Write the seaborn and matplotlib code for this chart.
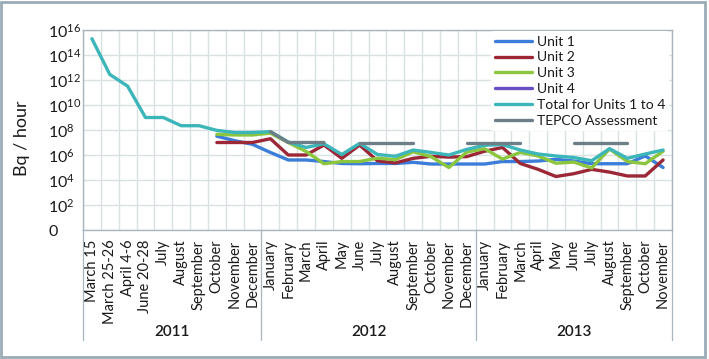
import numpy as np
import pandas as pd
import matplotlib
matplotlib.use("Agg")
import matplotlib.pyplot as plt
import matplotlib.transforms as mtransforms
import seaborn as sns
from matplotlib.lines import Line2D
from matplotlib.patches import Rectangle

# categories along the x axis, grouped by year
categories = ["March 15", "March 25-26", "April 4-6", "June 20-28", "July", "August",
              "September", "October", "November", "December",
              "January", "February", "March", "April", "May", "June", "July", "August",
              "September", "October", "November", "December",
              "January", "February", "March", "April", "May", "June", "July", "August",
              "September", "October", "November"]
years = ["2011", "2012", "2013"]
months_per_year = [10, 12, 11]

nan = np.nan
# release rates, Bq / hour
unit1 = [nan] * 7 + [3.2e7, 1.4e7, 7.1e6, 1.6e6, 4.0e5, 4.0e5, 3.0e5, 2.1e5, 2.0e5, 2.1e5,
                     2.1e5, 2.6e5, 1.9e5, 1.9e5, 1.9e5, 1.9e5, 3.0e5, 3.0e5, 3.3e5, 4.5e5,
                     3.3e5, 2.0e5, 2.0e5, 2.0e5, 8.5e5, 1.0e5]
unit2 = [nan] * 7 + [1.0e7, 1.0e7, 1.0e7, 2.0e7, 1.0e6, 1.0e6, 6.3e6, 5.4e5, 6.3e6, 3.4e5,
                     2.3e5, 5.4e5, 7.9e5, 6.8e5, 7.4e5, 2.0e6, 4.0e6, 2.1e5, 7.1e4, 1.9e4,
                     3.2e4, 7.1e4, 4.3e4, 2.1e4, 2.1e4, 4.0e5]
unit3 = [nan] * 7 + [4.5e7, 4.0e7, 4.0e7, 5.6e7, 1.0e7, 1.9e6, 2.0e5, 3.0e5, 3.0e5, 5.6e5,
                     4.2e5, 1.8e6, 7.4e5, 1.0e5, 1.7e6, 3.2e6, 4.7e5, 1.6e6, 8.3e5, 2.2e5,
                     2.7e5, 9.1e4, 3.0e6, 3.0e5, 2.0e5, 2.0e6]
unit4 = [nan] * 33
total = [2.0e15, 2.8e12, 3.2e11, 1.0e9, 1.0e9, 2.2e8, 2.2e8, 9.3e7, 6.3e7, 6.3e7,
         7.4e7, 1.1e7, 4.0e6, 7.9e6, 1.1e6, 8.5e6, 1.1e6, 7.9e5, 2.5e6, 1.6e6,
         1.0e6, 2.8e6, 6.0e6, 6.8e6, 2.5e6, 1.2e6, 8.3e5, 6.3e5, 3.5e5, 3.2e6,
         5.4e5, 1.2e6, 2.5e6]
tepco = ([nan] * 10 + [7.4e7, 1.0e7, 1.0e7, 1.0e7] + [nan] + [1.0e7] * 4 + [nan] * 2
         + [1.0e7] * 4 + [nan] * 2 + [1.0e7] * 4 + [nan] * 2)

series_names = ["Unit 1", "Unit 2", "Unit 3", "Unit 4", "Total for Units 1 to 4", "TEPCO Assessment"]
series_values = [unit1, unit2, unit3, unit4, total, tepco]
colors = ["#3b7dd8", "#9b2737", "#8cc63f", "#6a4fc4", "#3db6b9", "#6e7e87"]

# long table, one row per point; "seg" splits the gapped TEPCO line into pieces
rows = []
for name, vals in zip(series_names, series_values):
    vals = np.array(vals, dtype=float)
    seg = np.cumsum(np.isnan(vals))
    for i, v in enumerate(vals):
        if not np.isnan(v):
            rows.append({"pos": i, "value": v, "series": name, "seg": seg[i]})
df = pd.DataFrame(rows)

sns.set_style("white")
plt.rcParams["font.family"] = ["Lato", "DejaVu Sans"]
plt.rcParams["mathtext.fontset"] = "custom"
plt.rcParams["mathtext.rm"] = "Lato"
plt.rcParams["text.color"] = "#1a1a1a"

fig = plt.figure(figsize=(7.09, 3.59), dpi=100)
ax = fig.add_axes([83 / 709, 1 - 230 / 359, 589 / 709, 200 / 359])
ax.set_yscale("log")

present = [n for n in series_names if n in set(df["series"])]
sns.lineplot(data=df, x="pos", y="value", hue="series", units="seg", estimator=None,
             hue_order=present, palette=dict(zip(series_names, colors)),
             linewidth=2.4, legend=False, sort=False, ax=ax)

grid_c = "#d9e1e4"
line_c = "#a9b6bd"

# y axis
ax.set_ylim(1, 1e16)
exps = list(range(0, 17, 2))
ax.set_yticks([10.0 ** k for k in exps])
ax.set_yticklabels(["0"] + [r"$\mathregular{10^{%d}}$" % k for k in exps[1:]], fontsize=11.5)
ax.yaxis.set_minor_locator(matplotlib.ticker.NullLocator())
ax.tick_params(axis="y", length=0, pad=25, labelcolor="#1a1a1a")
for lbl in ax.get_yticklabels():
    lbl.set_horizontalalignment("left")
ax.set_ylabel("")

# x axis
n = len(categories)
ax.set_xlim(-0.5, n - 0.5)
ax.set_xticks(range(n))
ax.set_xticklabels(categories, rotation=90, fontsize=10.5)
ax.set_xticks(np.arange(-0.5, n, 1), minor=True)
ax.tick_params(axis="x", which="major", length=0, pad=7, labelcolor="#1a1a1a")
ax.tick_params(axis="x", which="minor", length=60, width=0.9, color=line_c, direction="out")
ax.set_xlabel("")

ax.grid(axis="x", which="minor", color=grid_c, lw=1.0)
ax.grid(axis="y", which="major", color=grid_c, lw=1.0)
ax.grid(axis="x", which="major", visible=False)
ax.set_axisbelow(True)
for sp in ax.spines.values():
    sp.set_color(line_c)
    sp.set_linewidth(1.0)

# year separators and labels
trans = mtransforms.blended_transform_factory(ax.transData, ax.transAxes)
bounds = np.concatenate([[0], np.cumsum(months_per_year)]) - 0.5
for b in bounds:
    ax.plot([b, b], [0, -0.55], transform=trans, clip_on=False, color=line_c, lw=0.9)
for y, a, b in zip(years, bounds[:-1], bounds[1:]):
    ax.text((a + b) / 2, -0.51, y, transform=trans, ha="center", va="center",
            fontsize=11, fontweight="semibold")

fig.text(22 / 709, 1 - 138 / 359, "Bq / hour", rotation=90, ha="center", va="center", fontsize=13)

handles = [Line2D([], [], color=c, lw=2.4) for c in colors]
leg = ax.legend(handles, series_names, loc="upper left", bbox_to_anchor=(0.69, 1.0),
                frameon=True, facecolor="white", edgecolor="none", framealpha=1,
                fontsize=10, handlelength=2.7, handletextpad=0.3, labelspacing=0.28,
                borderpad=0.3, borderaxespad=0.1)

fig.patches.append(Rectangle((1 / 709, 2 / 359), 704 / 709, 355 / 359, transform=fig.transFigure,
                             fill=False, edgecolor="#9aabb5", lw=2))

fig.savefig("out.png", dpi=100)
